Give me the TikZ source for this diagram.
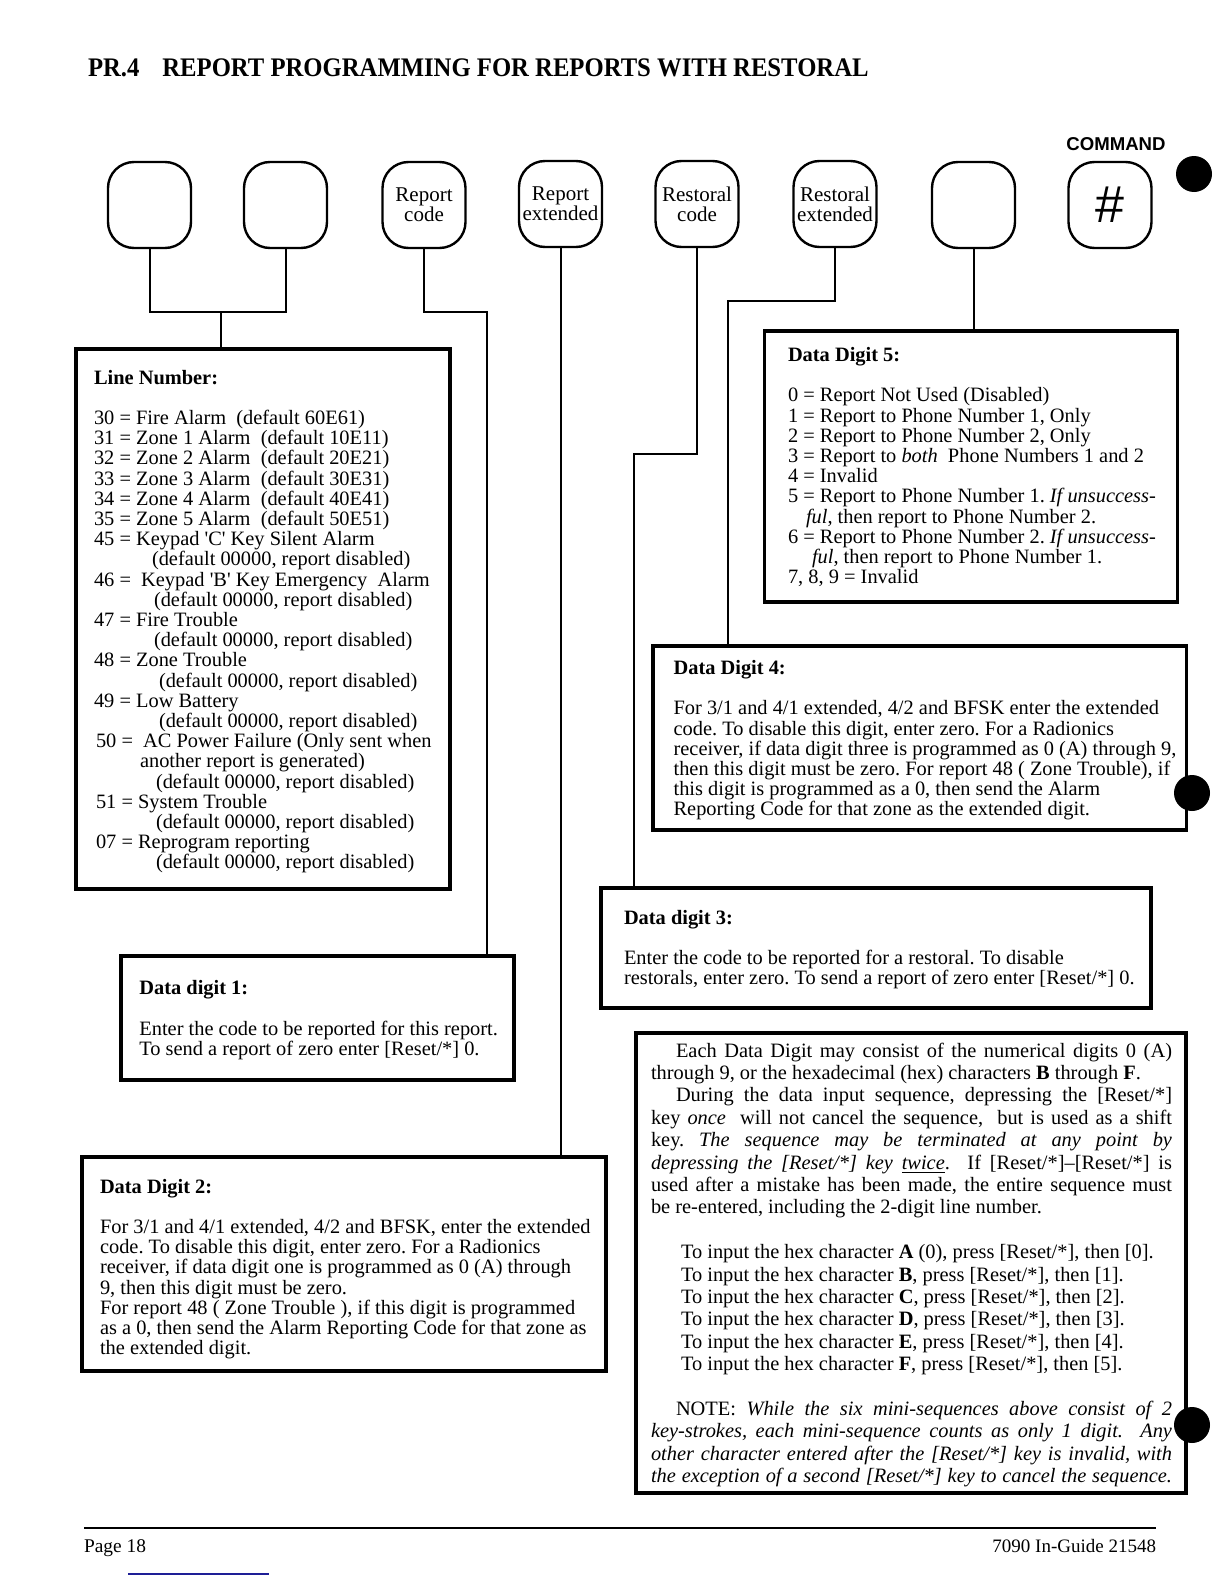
\documentclass[tikz,border=0pt]{standalone}
\usepackage{fontspec}
\setmainfont{Liberation Serif}
\newfontfamily\sansfont{Liberation Sans}
\usepackage{graphicx}
\definecolor{linkblue}{RGB}{30,30,150}
\frenchspacing
\newcommand\myline[1]{\hbox{#1}}
\newcommand\jline[1]{\hbox to\hsize{#1}}
\newcommand\bodyfont[1]{\fontsize{10.2}{#1}\selectfont}
\newcommand\rs{[Reset/*]}
\newcommand\dflt{(default 00000, report disabled)}
\tikzset{
  key/.style={draw, line width=1.2pt, rounded corners=13pt, minimum width=41.5pt,
    minimum height=43pt, inner sep=0pt, outer sep=0pt, align=center,
    font=\fontsize{10.5}{10}\selectfont},
  infobox/.style={draw, line width=1.7pt, inner sep=0pt, outer sep=0pt, anchor=north west},
  conn/.style={line width=1pt},
  tx/.style={inner sep=0pt, outer sep=0pt, anchor=base west, font=\frenchspacing},
}
\begin{document}
\begin{tikzpicture}[x=0.5pt,y=-0.5pt]
\useasboundingbox (0,0) rectangle (1224,1584);
\fill[white] (0,0) rectangle (1224,1584);

% title
\node[tx, font=\fontsize{13.4}{16}\selectfont\bfseries] (title) at (88,77)
  {\scalebox{0.921}[1]{PR.4\hspace{12.5pt}REPORT PROGRAMMING FOR REPORTS WITH RESTORAL}};
\node[tx, anchor=base, font=\sansfont\bfseries\fontsize{9.3}{10}\selectfont] (cmd) at (1116,150.5) {COMMAND};

% keys
\node[key] (k1) at (149.5,205) {};
\node[key] (k2) at (285.5,205) {};
\node[key] (k3) at (424,205) {Report\\code};
\node[key] (k4) at (560.5,204) {Report\\extended};
\node[key] (k5) at (697,204) {Restoral\\code};
\node[key] (k6) at (835,204) {Restoral\\extended};
\node[key] (k7) at (973.5,205) {};
\node[key, font=\sansfont\fontsize{26}{26}\selectfont] (k8) at (1110,205) {\#};

% black marks
\fill (1194,174) circle (18);
\fill (1192,793) circle (18);
\fill (1192,1425) circle (18);

% boxes
\node[infobox, minimum width=187pt, minimum height=270pt] (ln) at (76,349) {};
\node[infobox, minimum width=206.5pt, minimum height=135.5pt] (dd5) at (764.5,331) {};
\node[infobox, minimum width=266.8pt, minimum height=92pt] (dd4) at (653,646) {};
\node[infobox, minimum width=275pt, minimum height=60pt] (dd3) at (601,888) {};
\node[infobox, minimum width=196.5pt, minimum height=62pt] (dd1) at (121,956) {};
\node[infobox, minimum width=262pt, minimum height=107pt] (dd2) at (82,1157) {};
\node[infobox, minimum width=275pt, minimum height=230pt] (note) at (636,1033) {};

% connectors
\coordinate (j12) at (221,312);
\coordinate (c3) at (487,312);
\coordinate (c5) at (634,454);
\coordinate (c6) at (728,301);
\draw[conn] (k1.south) |- (j12) -| (k2.south);
\draw[conn] (j12) -- (j12 |- ln.north);
\draw[conn] (k3.south) |- (c3) -- (c3 |- dd1.north);
\draw[conn] (k4.south) -- (k4.south |- dd2.north);
\draw[conn] (k5.south) |- (c5) -- (c5 |- dd3.north);
\draw[conn] (k6.south) |- (c6) -- (c6 |- dd4.north);
\draw[conn] (k7.south) -- (k7.south |- dd5.north);

% texts
\node[tx] (lnt) at (94,384) {\vtop{\bodyfont{10.1}
\myline{\bfseries Line Number:}
\myline{}
\myline{30 = Fire Alarm~ (default 60E61)}
\myline{31 = Zone 1 Alarm~ (default 10E11)}
\myline{32 = Zone 2 Alarm~ (default 20E21)}
\myline{33 = Zone 3 Alarm~ (default 30E31)}
\myline{34 = Zone 4 Alarm~ (default 40E41)}
\myline{35 = Zone 5 Alarm~ (default 50E51)}
\myline{45 = Keypad \textquotesingle C\textquotesingle\ Key Silent Alarm}
\myline{\hspace*{29pt}\dflt}
\myline{46 = ~Keypad \textquotesingle B\textquotesingle\ Key Emergency~ Alarm}
\myline{\hspace*{30pt}\dflt}
\myline{47 = Fire Trouble}
\myline{\hspace*{30pt}\dflt}
\myline{48 = Zone Trouble}
\myline{\hspace*{32.5pt}\dflt}
\myline{49 = Low Battery}
\myline{\hspace*{32.5pt}\dflt}
\myline{\hspace*{1pt}50 = ~AC Power Failure (Only sent when}
\myline{\hspace*{23pt}another report is generated)}
\myline{\hspace*{31pt}\dflt}
\myline{\hspace*{1pt}51 = System Trouble}
\myline{\hspace*{31pt}\dflt}
\myline{\hspace*{1pt}07 = Reprogram reporting}
\myline{\hspace*{31pt}\dflt}
}};

\node[tx] (dd5t) at (788,361.5) {\vtop{\bodyfont{10.1}
\myline{\bfseries Data Digit 5:}
\myline{}
\myline{0 = Report Not Used (Disabled)}
\myline{1 = Report to Phone Number 1, Only}
\myline{2 = Report to Phone Number 2, Only}
\myline{3 = Report to \textit{both}~ Phone Numbers 1 and 2}
\myline{4 = Invalid}
\myline{5 = Report to Phone Number 1. \textit{If unsuccess-}}
\myline{\hspace*{9pt}\textit{ful},~then report to Phone Number 2.}
\myline{6 = Report to Phone Number 2. \textit{If unsuccess-}}
\myline{\hspace*{12pt}\textit{ful}, then report to Phone Number 1.}
\myline{7, 8, 9 = Invalid}
}};

\node[tx] (dd4t) at (673.6,674.5) {\vtop{\bodyfont{10.1}
\myline{\bfseries Data Digit 4:}
\myline{}
\myline{For 3/1 and 4/1 extended, 4/2 and BFSK enter the extended}
\myline{code. To disable this digit, enter zero. For a Radionics}
\myline{receiver, if data digit three is programmed as 0 (A) through 9,}
\myline{then this digit must be zero. For report 48 ( Zone Trouble), if}
\myline{this digit is programmed as a 0, then send the Alarm}
\myline{Reporting Code for that zone as the extended digit.}
}};

\node[tx] (dd3t) at (624,924) {\vtop{\bodyfont{10.1}
\myline{\bfseries Data digit 3:}
\myline{}
\myline{Enter the code to be reported for a restoral. To disable}
\myline{restorals, enter zero. To send a report of zero enter \rs\ 0.}
}};

\node[tx] (dd1t) at (139.4,994.7) {\vtop{\bodyfont{10.1}
\myline{\bfseries Data digit 1:}
\myline{}
\myline{Enter the code to be reported for this report.}
\myline{To send a report of zero enter \rs\ 0.}
}};

\node[tx] (dd2t) at (100,1193) {\vtop{\bodyfont{10.1}
\myline{\bfseries Data Digit 2:}
\myline{}
\myline{For 3/1 and 4/1 extended, 4/2 and BFSK, enter the extended}
\myline{code. To disable this digit, enter zero. For a Radionics}
\myline{receiver, if data digit one is programmed as 0 (A) through}
\myline{9, then this digit must be zero.}
\myline{For report 48 ( Zone Trouble ), if this digit is programmed}
\myline{as a 0, then send the Alarm Reporting Code for that zone as}
\myline{the extended digit.}
}};

\node[tx] (notet) at (651,1057) {\vtop{\hsize=260.5pt\bodyfont{11.2}
\jline{\hspace*{12.5pt}Each Data Digit may consist of the numerical digits 0 (A)}
\myline{through 9, or the hexadecimal (hex) characters \textbf{B} through \textbf{F}.}
\jline{\hspace*{12.5pt}During the data input sequence, depressing the \rs}
\jline{key \textit{once} ~will not cancel the sequence, ~but is used as a shift}
\jline{key. \textit{The sequence may be terminated at any point by}}
\jline{\textit{depressing the \rs\ key \underline{twice}}. ~If \rs--\rs\ is}
\jline{used after a mistake has been made, the entire sequence must}
\myline{be re-entered, including the 2-digit line number.}
\myline{}
\myline{\hspace*{15pt}To input the hex character \textbf{A} (0), press \rs, then [0].}
\myline{\hspace*{15pt}To input the hex character \textbf{B}, press \rs, then [1].}
\myline{\hspace*{15pt}To input the hex character \textbf{C}, press \rs, then [2].}
\myline{\hspace*{15pt}To input the hex character \textbf{D}, press \rs, then [3].}
\myline{\hspace*{15pt}To input the hex character \textbf{E}, press \rs, then [4].}
\myline{\hspace*{15pt}To input the hex character \textbf{F}, press \rs, then [5].}
\myline{}
\jline{\hspace*{12.5pt}NOTE: \textit{While the six mini-sequences above consist of 2}}
\jline{\textit{key-strokes, each mini-sequence counts as only 1 digit. ~Any}}
\jline{\textit{other character entered after the \rs\ key is invalid, with}}
\jline{\textit{the exception of a second \rs\ key to cancel the sequence.}}
}};

% footer
\draw[line width=1.3pt] (84,1528) -- (1156,1528);
\node[tx, font=\fontsize{9.7}{11}\selectfont] (pg) at (84,1552) {Page 18};
\node[tx, anchor=base east, font=\fontsize{9.5}{11}\selectfont] (guide) at (1156,1552) {7090 In-Guide 21548};
\draw[linkblue, line width=0.8pt] (128,1574) -- (269,1574);
\end{tikzpicture}
\end{document}
